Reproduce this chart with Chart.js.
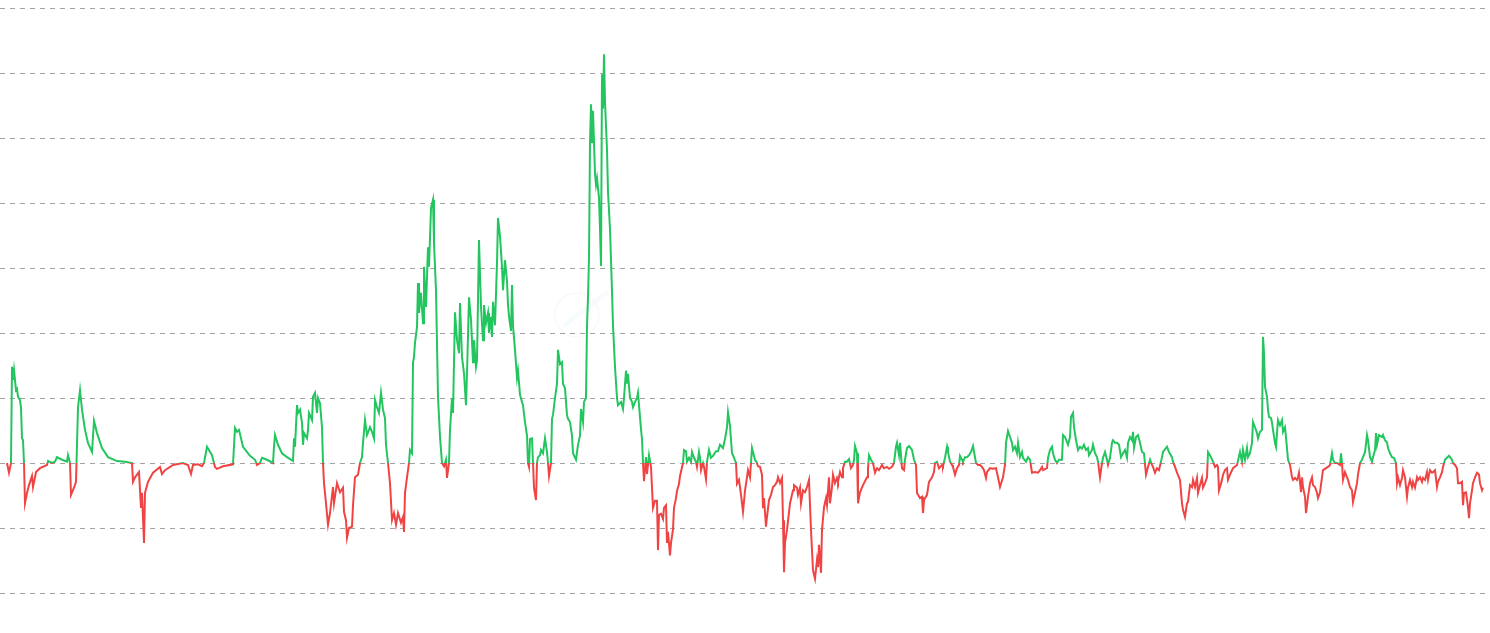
<!DOCTYPE html>
<html lang="en">
<head>
  <meta charset="UTF-8">
  <title>Spread chart</title>
  <script src="https://cdn.jsdelivr.net/npm/chart.js"></script>
  <style>
    html, body { margin: 0; padding: 0; background: #fff; }
    #wrap { width: 1490px; height: 633px; position: relative; }
  </style>
</head>
<body>
<div id="wrap"><canvas id="spreadChart"></canvas></div>

<script>
  // sample position along the time axis
  const sampleX = [
    7, 9, 11, 12, 13, 14, 16, 17, 18, 20,
    21, 22, 23, 24, 25, 27, 29, 32, 33, 35,
    36, 40, 47, 48, 52, 55, 57, 62, 67, 68,
    70, 71, 74, 76, 77, 78, 80, 82, 85, 88,
    92, 94, 97, 102, 108, 117, 125, 132, 133, 135,
    139, 141, 142, 144, 145, 148, 153, 160, 162, 165,
    173, 183, 188, 191, 193, 198, 202, 204, 207, 212,
    215, 217, 223, 233, 235, 237, 239, 243,
    250, 255, 257, 260, 262, 267, 273, 274, 275, 278,
    282, 287, 293, 294, 295, 297, 298, 300, 302, 303,
    304, 307, 308, 309, 312, 313, 315, 317, 318, 320,
    322, 323, 324, 326, 328, 330, 333, 334, 337, 340,
    343, 344, 346, 347, 349, 352, 353, 355, 358, 360,
    362, 363, 365, 367, 370, 372, 374, 375, 377, 379,
    381, 383, 385, 386, 388, 390, 392, 394, 396, 398,
    401, 403, 404, 405, 407, 409, 410, 412, 413, 414,
    415, 417, 418, 419, 421, 423, 424, 426, 428, 429,
    431, 433, 434, 436, 438, 440, 442, 444, 446, 447,
    449, 450, 452, 453, 455, 457, 459, 460, 462, 464,
    466, 467, 469, 471, 473, 474, 476, 477, 479, 481,
    483, 484, 486, 488, 489, 491, 492, 493, 495, 497,
    498,
    500, 502, 503, 505, 507, 508, 509, 511, 512, 513,
    515, 517, 518, 520, 522, 523, 525, 527, 528, 529,
    530, 532, 533, 534, 536, 537, 538, 540, 541, 543,
    545, 547, 548, 549, 551, 552, 553, 555, 557, 558,
    560, 562, 563, 565, 567, 568, 570, 572, 573, 576,
    578, 580, 581, 583, 584, 586, 587, 588, 589, 590,
    591, 592, 593, 595, 596, 597, 599, 600, 601, 602,
    603, 604, 605, 607, 608, 610, 612, 613, 615, 617,
    618, 621, 623, 624, 626, 627, 628, 630, 632, 633,
    635, 637, 638, 639, 641, 642, 643, 644, 646, 647,
    649, 651, 652, 653, 655, 657, 658, 659, 661, 663,
    664, 666, 667, 668, 670, 671, 673, 674, 676, 677,
    679, 680, 683, 684, 686, 687, 689, 691, 692, 694,
    696, 697, 699, 700, 701, 703, 704, 706, 707, 709,
    711, 713, 716, 718, 720, 723, 725, 727, 728, 730,
    732, 733, 736, 737, 739, 741, 743, 745, 748,
    750, 752, 753, 755, 757, 758, 760, 762, 763, 764,
    766, 767, 769, 771, 773, 775, 777, 778, 780, 782,
    783, 784, 785, 787, 790, 793, 794, 797, 798, 800,
    801, 803, 805, 807, 809, 811, 813, 815, 817, 818,
    819, 821, 822, 824, 826, 827, 829, 830, 832, 833,
    835, 837, 838, 840, 842, 843, 845, 847, 849, 851,
    853, 854, 855, 857, 858, 860, 863, 867, 868, 869,
    871, 873, 875, 877, 879, 882, 884, 887, 889, 892,
    894, 896, 897, 899, 900, 902, 904, 905, 907, 909,
    912, 914, 916, 917, 920, 922, 923, 924, 927, 929,
    932, 934, 935, 937, 939, 942, 943, 945, 947, 948,
    950, 952, 953, 955, 957, 959, 960, 962, 963, 965,
    967, 969, 971, 973, 976, 978, 980, 982, 984, 986,
    987, 990, 993, 996, 998,
    1000, 1003, 1005, 1006, 1008, 1010, 1012, 1013, 1015, 1017,
    1018, 1020, 1022, 1023, 1026, 1028, 1030, 1032, 1035, 1038,
    1040, 1042, 1043, 1047, 1048, 1050, 1052, 1053, 1055, 1057,
    1059, 1062, 1063, 1065, 1067, 1068, 1070, 1071, 1073, 1074,
    1076, 1078, 1080, 1082, 1084, 1086, 1088, 1089, 1092, 1093,
    1095, 1097, 1098, 1100, 1102, 1103, 1105, 1107, 1108, 1110,
    1112, 1113, 1115, 1117, 1119, 1121, 1123, 1125, 1127, 1128,
    1130, 1132, 1133, 1134, 1136, 1138, 1140, 1142, 1144, 1146,
    1148, 1150, 1152, 1153, 1155, 1157, 1159, 1162, 1163, 1167,
    1169, 1172, 1173, 1175, 1177, 1180, 1182, 1183, 1185, 1187,
    1188, 1190, 1192, 1193, 1195, 1197, 1198, 1200, 1202, 1203,
    1205, 1207, 1208, 1210, 1213, 1215, 1217, 1218, 1219, 1222,
    1223, 1225, 1227, 1228, 1230, 1233, 1237,
    1240, 1242, 1243, 1245, 1247, 1248, 1250, 1252, 1253, 1255,
    1257, 1258, 1260, 1262, 1263, 1264, 1265, 1267, 1268, 1269,
    1271, 1272, 1273, 1275, 1276, 1277, 1278, 1280, 1282, 1283,
    1285, 1287, 1288, 1290, 1292, 1293, 1295, 1297, 1298, 1299,
    1301, 1302, 1303, 1305, 1306, 1308, 1310, 1312, 1313, 1315,
    1317, 1318, 1320, 1322, 1323, 1326, 1328, 1330, 1332, 1333,
    1335, 1337, 1340, 1341, 1342, 1343, 1345, 1347, 1348, 1350,
    1352, 1353, 1355, 1357, 1358, 1360, 1362, 1363, 1365, 1367,
    1368, 1370, 1372, 1373, 1375, 1376, 1377, 1379, 1382, 1383,
    1385, 1387, 1388, 1390, 1392, 1394, 1396, 1397, 1398, 1400,
    1402, 1403, 1405, 1407, 1408, 1410, 1412, 1413, 1415, 1417,
    1418, 1420, 1422, 1423, 1425, 1427, 1428, 1430, 1432, 1433,
    1435, 1437, 1438, 1440, 1442, 1443, 1445, 1447, 1449, 1452,
    1453, 1455, 1457, 1458, 1460, 1462, 1463, 1464, 1466, 1468,
    1469, 1470, 1472, 1473, 1475, 1477, 1479, 1480, 1482, 1483
  ];

  // series value at each sample (same grouping as sampleX)
  const values = [
    0, -1.5, 0, 14.8, 12.8, 14.3, 11.2, 11.4, 10.2, 9.7,
    8.5, 3.8, 3.5, 0, -6.2, -4.6, -3.4, -2.0, -3.7, -2.2,
    -1.4, -0.8, -0.3, 0.3, 0, 0.2, 0.9, 0.5, 0.2, 1.2,
    0, -4.9, -3.8, -2.9, 2.8, 8.5, 11.2, 8.2, 5.1, 3.1,
    1.7, 6.5, 4.6, 2.3, 0.9, 0.3, 0.2, 0, -2.9, -2.2,
    -1.4, -6.9, -4.6, -12.3, -4.6, -2.9, -1.5, -0.6, -1.7, -1.1,
    -0.3, 0, -0.3, -1.7, -0.3, -0.2, -0.5, 0, 2.5, 1.2,
    -0.6, -0.9, -0.5, -0.2, 5.4, 4.8, 5.1, 2.5,
    1.1, 0.5, -0.3, 0, 0.8, 0.5, 0, 2.5, 4.3, 2.8,
    1.5, 0.9, 0.3, 3.8, 2.5, 8.9, 7.7, 8.2, 6.2, 2.8,
    4.6, 3.8, 5.1, 7.7, 6.6, 10.2, 10.8, 7.7, 10.0, 9.2,
    5.5, 0, -3.1, -6.2, -9.5, -7.7, -3.7, -6.2, -3.1, -4.5,
    -3.8, -7.5, -8.8, -11.5, -10.0, -9.8, -6.5, -2.2, -1.8, 0,
    0.9, 3.1, 6.6, 4.3, 5.5, 4.8, 3.8, 9.7, 8.6, 7.7,
    10.8, 8.2, 6.9, 2.8, 0, -3.1, -8.8, -7.7, -9.5, -7.7,
    -9.2, -8.3, -10.6, -4.6, -2.2, 0, 2.0, 1.5, 15.4, 16.3,
    18.5, 20.9, 27.7, 23.1, 26.2, 21.5, 30.2, 24.0, 33.2, 30.2,
    39.2, 40.5, 33.8, 26.6, 10.2, 4.0, 0, -0.5, 0.5, -2.3,
    0, 5.1, 10.0, 7.7, 23.2, 18.9, 16.9, 24.6, 16.3, 13.8,
    8.9, 13.8, 25.5, 22.0, 15.5, 18.9, 14.8, 15.8, 34.3, 24.0,
    18.9, 24.3, 21.5, 23.1, 20.0, 22.5, 19.4, 24.8, 21.2, 30.8,
    37.7,
    34.9, 30.2, 26.6, 31.2, 28.0, 24.3, 22.6, 20.3, 27.4, 21.1,
    17.4, 13.1, 14.2, 10.5, 9.4, 8.9, 6.3, 4.2, 0, -0.6,
    3.7, 3.8, 0, -3.8, -5.7, 0, 0.9, 1.2, 2.0, 1.5,
    3.8, 1.7, 0, -2.0, 0, 6.8, 7.4, 10.0, 12.2, 17.4,
    15.2, 15.5, 12.2, 11.5, 7.4, 6.8, 6.3, 4.2, 1.5, 0.5,
    2.8, 4.2, 8.3, 6.3, 9.4, 10.0, 21.1, 25.4, 31.7, 49.2,
    55.2, 49.2, 54.2, 44.5, 42.8, 43.8, 40.8, 36.0, 30.3, 59.8,
    54.5, 62.9, 55.5, 48.2, 41.7, 36.0, 26.5, 21.1, 14.8, 10.0,
    8.9, 9.4, 8.3, 10.0, 14.2, 12.2, 13.7, 10.0, 9.4, 8.6,
    9.4, 10.0, 10.8, 8.9, 5.2, 3.7, 0, -2.8, 0.9, -1.7,
    1.2, -0.6, -3.8, -6.9, -5.8, -5.8, -13.4, -8.0, -7.8, -8.6,
    -6.9, -6.5, -12.3, -10.6, -14.2, -12.3, -10.2, -6.9, -5.4, -4.3,
    -3.2, -2.0, 0, 2.0, 1.8, 0.2, 0.8, 0.2, 1.7, 0.8,
    0.2, -0.6, 1.7, 0.8, -1.1, 0, -0.6, -2.5, 0.2, 2.0,
    0.8, 1.1, 1.8, 1.8, 2.8, 2.3, 3.7, 5.5, 7.8, 5.7,
    1.5, 1.2, 0, -3.2, -2.6, -4.9, -7.5, -4.3, -1.1,
    -2.2, 2.3, 1.7, 0.5, 0, -0.5, -0.6, -1.8, -6.8, -5.4,
    -9.8, -8.3, -5.7, -4.9, -3.7, -3.4, -2.9, -2.2, -3.1, -2.3,
    -8.8, -16.8, -12.3, -10.3, -6.2, -4.2, -3.4, -3.8, -4.9, -3.8,
    -6.2, -4.2, -4.5, -3.7, -2.6, -10.3, -16.5, -17.8, -14.9, -16.0,
    -12.6, -16.9, -10.3, -6.8, -5.4, -6.5, -2.2, -6.2, -3.7, -1.8,
    -3.1, -2.3, -2.9, -1.4, -2.2, -0.8, 0.2, 0.2, 0.6, -0.8,
    -0.3, 0.5, 2.6, 1.5, -6.2, -4.5, -3.4, -2.2, -0.8, 1.2,
    0.5, 0, -1.5, -0.8, -1.1, -0.3, -0.8, -0.6, -0.9, -0.6,
    0, 2.5, 3.1, 1.2, 3.1, -0.8, -1.1, 0.5, 2.3, 2.6,
    2.0, 0.5, -0.3, -4.6, -5.4, -5.2, -7.7, -5.7, -4.9, -2.9,
    -2.2, -1.4, 0, 0.2, -0.8, -0.3, -0.5, 0.8, 2.5, 1.7,
    0.2, -0.3, -0.6, -1.8, -0.8, -0.3, 1.1, 0.5, 0.2, 0.9,
    0.9, 1.2, 1.7, 2.6, 0, -0.3, -0.3, -0.6, -1.1, -2.3,
    -1.4, -0.8, -0.9, -0.8, -2.2,
    -3.7, -2.2, -0.3, 3.1, 4.9, 4.0, 3.1, 2.0, 2.5, 1.5,
    3.1, 0.9, 1.7, 0.8, 0.2, 0.9, 0.5, -1.5, -1.4, -1.5,
    -1.1, -0.6, -1.1, -0.8, 0.8, 2.0, 2.5, 1.5, 0.5, 0,
    0.5, 0.5, 4.3, 4.0, 3.2, 2.8, 4.0, 7.1, 7.7, 5.5,
    3.5, 2.0, 2.5, 2.2, 2.8, 2.0, 2.3, 1.2, 2.0, 2.8,
    1.5, 0.9, 0.2, -2.2, 0, 0.8, 1.7, 0.5, -0.3, 0.8,
    3.1, 3.5, 3.1, 3.1, 2.8, 0.9, 1.5, 2.0, 0.8, 3.1,
    4.0, 3.5, 4.8, 2.3, 4.0, 4.3, 3.1, 1.7, 1.5, -1.8,
    -0.6, 0.5, -0.3, -0.6, -1.5, -0.8, -1.1, 0.9, 1.7, 2.5,
    1.7, 0.9, 0.2, -0.6, -1.5, -2.6, -6.2, -7.2, -8.3, -6.2,
    -6.0, -3.4, -3.7, -2.6, -3.7, -2.3, -4.6, -3.4, -2.3, -3.8,
    -3.1, -2.2, 1.7, 1.2, 0.2, -0.6, -0.3, -0.6, -4.2, -2.6,
    -1.8, -1.1, -0.8, -2.6, -1.8, -0.8, -0.3,
    1.7, 0.2, 2.0, 0.5, 2.3, 0.9, 1.5, 3.1, 6.3, 5.5,
    4.6, 3.8, 4.8, 5.1, 19.4, 16.9, 11.7, 10.2, 8.2, 7.1,
    6.9, 6.2, 5.1, 3.1, 2.5, 4.6, 6.6, 5.8, 6.6, 4.8,
    5.5, 2.3, 0.5, -0.3, -2.2, -2.6, -2.3, -2.6, -2.2, -1.5,
    -4.5, -2.2, -3.7, -5.2, -7.7, -5.2, -3.1, -2.2, -3.4, -3.7,
    -4.6, -5.4, -4.5, -2.2, -1.1, -0.8, -0.6, -0.3, 1.5, 0.5,
    0, 0, -0.3, 1.5, 0, -2.6, -1.4, -2.2, -2.6, -3.7,
    -4.2, -6.0, -4.6, -3.1, -1.8, 0, 0.5, 0.9, 1.7, 4.3,
    3.5, 0.9, 0.2, 0.9, 2.0, 4.6, 2.8, 4.3, 4.0, 4.3,
    3.5, 3.2, 2.3, 1.5, 0.9, 0.8, 0, -3.1, -2.2, -3.4,
    -2.3, -1.1, -2.2, -5.2, -3.8, -2.6, -3.7, -2.9, -3.8, -2.2,
    -2.6, -2.2, -2.9, -2.3, -2.6, -1.4, -2.6, -1.1, -1.5, -1.4,
    -1.1, -3.7, -2.9, -2.2, -1.4, -0.6, 0.5, 0.8, 1.1, 0.5,
    0, -0.3, -0.8, -3.1, -3.1, -2.9, -6.5, -4.6, -4.5, -6.8,
    -8.5, -6.2, -4.2, -3.1, -2.2, -1.5, -1.8, -3.1, -4.2, -3.8
  ];

  // y axis range / gridline step
  const yMin = -20;
  const yMax = 70;
  const yStep = 10;
  const threshold = 0;

  const upColor = '#22c55e';
  const downColor = '#ef4444';

  if (sampleX.length !== values.length) {
    console.error('length mismatch', sampleX.length, values.length);
  }

  const points = sampleX.map((x, i) => ({ x: x, y: values[i] }));

  // green above the threshold, red below: hard-stop gradient at the zero line
  function splitColor(context) {
    const chart = context.chart;
    const area = chart.chartArea;
    if (!area) return upColor;
    const zeroY = chart.scales.y.getPixelForValue(threshold);
    const stop = Math.min(1, Math.max(0, (zeroY - area.top) / (area.bottom - area.top)));
    const g = chart.ctx.createLinearGradient(0, area.top, 0, area.bottom);
    g.addColorStop(0, upColor);
    g.addColorStop(stop, upColor);
    g.addColorStop(stop, downColor);
    g.addColorStop(1, downColor);
    return g;
  }

  // faint logo watermark in the middle of the plot
  const watermark = {
    id: 'watermark',
    beforeDatasetsDraw(chart) {
      const ctx = chart.ctx;
      const cx = chart.scales.x.getPixelForValue(577);
      const cy = chart.scales.y.getPixelForValue(22.8);
      ctx.save();
      ctx.strokeStyle = 'rgba(120, 110, 200, 0.05)';
      ctx.lineWidth = 1.2;
      ctx.beginPath();
      ctx.arc(cx, cy, 22, 0, Math.PI * 2);
      ctx.stroke();
      const g = ctx.createLinearGradient(cx - 12, cy + 10, cx + 32, cy - 24);
      g.addColorStop(0, 'rgba(150, 225, 245, 0.10)');
      g.addColorStop(1, 'rgba(210, 180, 245, 0.07)');
      ctx.strokeStyle = g;
      ctx.lineWidth = 5;
      ctx.lineCap = 'round';
      ctx.beginPath();
      ctx.moveTo(cx - 12, cy + 10);
      ctx.lineTo(cx + 30, cy - 22);
      ctx.stroke();
      ctx.restore();
    }
  };

  const chart = new Chart(document.getElementById('spreadChart'), {
    type: 'line',
    data: {
      datasets: [{
        data: points,
        borderColor: splitColor,
        borderWidth: 2,
        pointRadius: 0,
        tension: 0,
        fill: false
      }]
    },
    options: {
      responsive: true,
      maintainAspectRatio: false,
      animation: false,
      layout: { padding: { top: 8, bottom: 40, left: 0, right: 3 } },
      plugins: {
        legend: { display: false },
        tooltip: { enabled: false }
      },
      scales: {
        x: {
          type: 'linear',
          min: 0,
          max: 1487,
          display: false
        },
        y: {
          min: yMin,
          max: yMax,
          ticks: { display: false, stepSize: yStep },
          grid: { color: '#a3a3a3', lineWidth: 1, drawTicks: false },
          border: { display: false, dash: [5, 5] }
        }
      }
    },
    plugins: [watermark]
  });
</script>
</body>
</html>
